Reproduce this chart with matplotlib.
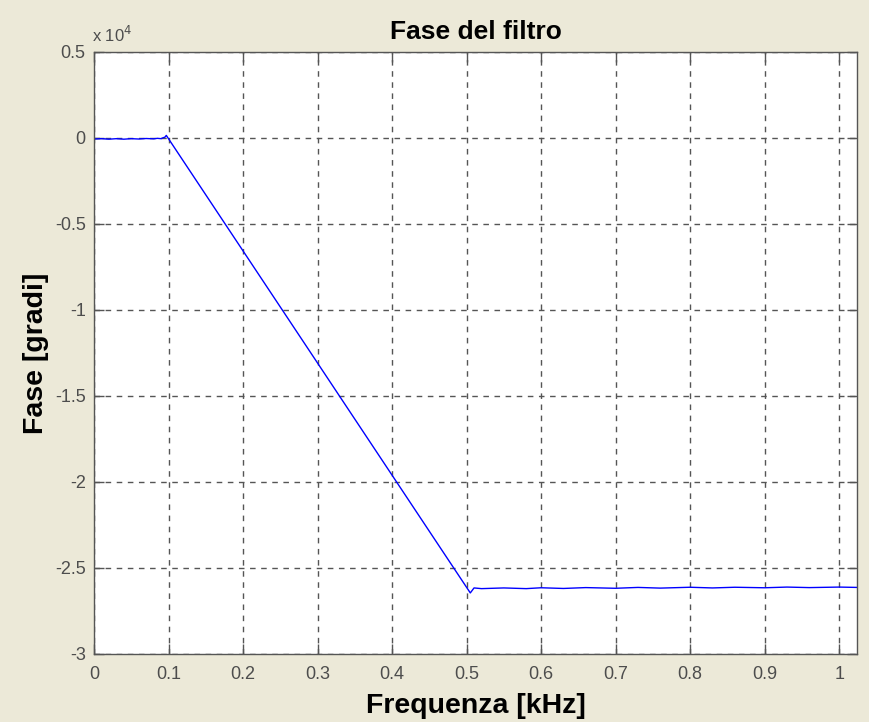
import numpy as np
import matplotlib.pyplot as plt

plt.rcParams['font.family'] = ['Liberation Sans', 'DejaVu Sans']
plt.rcParams['axes.unicode_minus'] = False

# Phase response of the filter (frequency in kHz, phase in degrees)
freq_pass = [0.0, 0.01, 0.02, 0.03, 0.04, 0.05, 0.06, 0.07, 0.08, 0.085, 0.09, 0.093, 0.095, 0.097]
phase_pass = [-60, -40, -70, -40, -70, -40, -60, -30, -50, -20, -40, 20, 40, 150]

freq_ramp = [0.097, 0.505]
phase_ramp = [150, -26450]

freq_stop = [0.505, 0.51, 0.52, 0.55, 0.58, 0.6, 0.63, 0.66, 0.7, 0.73, 0.76, 0.8,
             0.83, 0.86, 0.9, 0.93, 0.96, 1.0, 1.024]
phase_stop = [-26450, -26160, -26200, -26160, -26200, -26150, -26190, -26140, -26180,
              -26130, -26170, -26120, -26160, -26120, -26150, -26110, -26140, -26110, -26130]

freq = freq_pass + freq_ramp[1:] + freq_stop[1:]
phase = phase_pass + phase_ramp[1:] + phase_stop[1:]

scale = 1e4
bg = '#ECE9D8'
tick_col = '#4d4d4d'

fig = plt.figure(figsize=(8.69, 7.22), dpi=100, facecolor=bg)
ax = fig.add_axes([0.1082, 0.0942, 0.8780, 0.8338])
ax.plot(freq, np.array(phase) / scale, color='#0000ff', lw=1.0)

ax.set_xlim(0, 1.024)
ax.set_ylim(-3, 0.5)
ax.set_xticks(np.arange(0, 1.01, 0.1))
ax.set_xticklabels(['0', '0.1', '0.2', '0.3', '0.4', '0.5', '0.6', '0.7', '0.8', '0.9', '1'])
ax.set_yticks([0.5, 0, -0.5, -1, -1.5, -2, -2.5, -3])
ax.set_yticklabels(['0.5', '0', '-0.5', '-1', '-1.5', '-2', '-2.5', '-3'])

ax.grid(True, color='#555555', linestyle=(0, (4, 4)), linewidth=1.0)
ax.tick_params(direction='in', top=True, right=True, length=7, width=1.0,
               color='#555555', labelcolor=tick_col, labelsize=13)
ax.tick_params(axis='x', pad=9)
ax.tick_params(axis='y', pad=6)
for s in ax.spines.values():
    s.set_color('#555555')
    s.set_linewidth(1.0)

ax.set_title('Fase del filtro', fontsize=19, fontweight='bold', pad=9)
ax.set_xlabel('Frequenza [kHz]', fontsize=20.5, fontweight='bold', labelpad=7)
ax.set_ylabel('Fase [gradi]', fontsize=20.5, fontweight='bold', labelpad=4)
ax.text(-0.002, 1.012, r'x 10$^4$', transform=ax.transAxes, fontsize=12,
        color=tick_col, ha='left', va='bottom')

fig.savefig('out.png', dpi=100, facecolor=bg)
